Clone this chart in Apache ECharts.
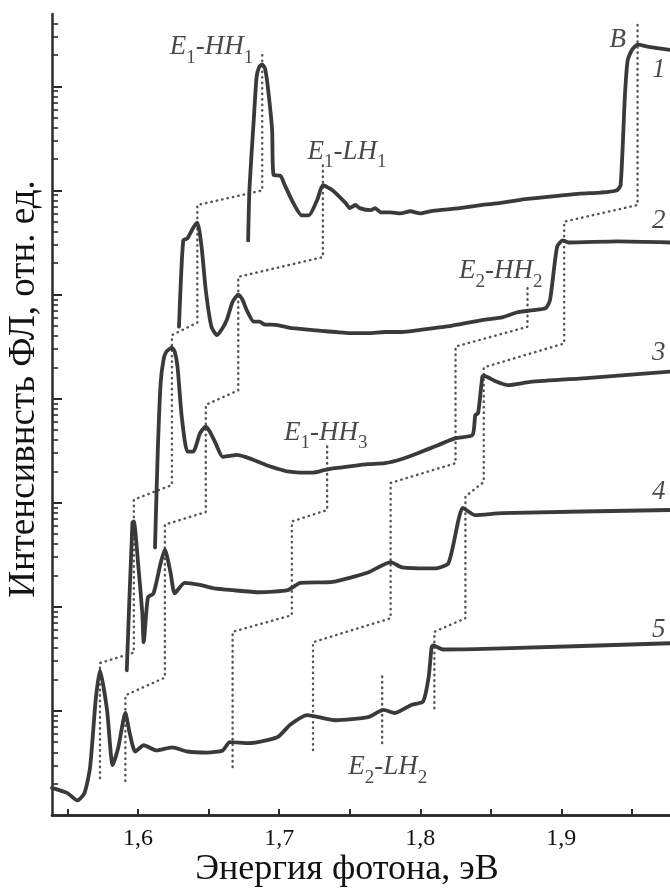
<!DOCTYPE html>
<html>
<head>
<meta charset="utf-8">
<script src="https://cdn.jsdelivr.net/npm/echarts@6/dist/echarts.min.js"></script>
<style>
html, body { margin: 0; padding: 0; background: #fff; }
#chart { width: 670px; height: 892px; }
</style>
</head>
<body>
<div id="chart"></div>
<script>
// x: photon energy, eV;  y: lg of PL intensity (curves offset by decades)
var curve1 = [[1.678,5.52],[1.679,6.03],[1.682,6.68],[1.684,7.09],[1.686,7.19],[1.688,7.21],[1.690,7.17],[1.692,6.99],[1.695,6.58],[1.696,6.15],[1.701,6.14],[1.704,6.05],[1.710,5.88],[1.716,5.76],[1.721,5.76],[1.727,5.91],[1.731,6.05],[1.738,6.00],[1.747,5.88],[1.750,5.83],[1.754,5.86],[1.757,5.83],[1.765,5.81],[1.768,5.83],[1.772,5.79],[1.779,5.79],[1.786,5.78],[1.793,5.80],[1.800,5.78],[1.807,5.80],[1.814,5.81],[1.828,5.83],[1.843,5.86],[1.857,5.88],[1.871,5.91],[1.885,5.93],[1.899,5.95],[1.913,5.97],[1.928,5.98],[1.939,6.00],[1.942,6.05],[1.945,6.90],[1.947,7.25],[1.950,7.35],[1.954,7.40],[1.962,7.38],[1.977,7.35]];
var curve2 = [[1.629,4.69],[1.632,5.52],[1.635,5.54],[1.639,5.64],[1.642,5.69],[1.645,5.46],[1.648,5.04],[1.652,4.69],[1.656,4.61],[1.660,4.68],[1.663,4.76],[1.667,4.93],[1.671,5.00],[1.674,4.95],[1.677,4.85],[1.682,4.74],[1.686,4.74],[1.690,4.71],[1.694,4.71],[1.701,4.70],[1.708,4.68],[1.715,4.67],[1.722,4.66],[1.730,4.65],[1.740,4.64],[1.750,4.63],[1.763,4.63],[1.775,4.64],[1.787,4.64],[1.800,4.66],[1.811,4.68],[1.822,4.70],[1.834,4.73],[1.846,4.76],[1.858,4.78],[1.869,4.83],[1.880,4.85],[1.889,4.87],[1.892,4.95],[1.897,5.46],[1.901,5.52],[1.905,5.50],[1.940,5.51],[1.977,5.50]];
var curve3 = [[1.612,2.57],[1.614,3.51],[1.616,4.15],[1.618,4.37],[1.620,4.45],[1.624,4.49],[1.626,4.45],[1.628,4.30],[1.631,3.82],[1.635,3.49],[1.639,3.49],[1.644,3.67],[1.648,3.73],[1.651,3.68],[1.655,3.57],[1.660,3.44],[1.665,3.45],[1.670,3.46],[1.676,3.44],[1.682,3.41],[1.691,3.36],[1.698,3.33],[1.706,3.30],[1.715,3.29],[1.724,3.29],[1.731,3.31],[1.738,3.33],[1.750,3.35],[1.763,3.37],[1.775,3.38],[1.787,3.42],[1.799,3.48],[1.812,3.55],[1.825,3.62],[1.837,3.65],[1.839,3.84],[1.841,3.86],[1.844,4.21],[1.845,4.22],[1.853,4.17],[1.862,4.13],[1.878,4.16],[1.920,4.20],[1.977,4.26]];
var curve4 = [[1.592,1.39],[1.596,2.81],[1.597,2.82],[1.600,2.42],[1.603,1.94],[1.604,1.66],[1.607,2.09],[1.611,2.13],[1.616,2.42],[1.619,2.55],[1.623,2.33],[1.626,2.13],[1.633,2.23],[1.644,2.21],[1.653,2.18],[1.667,2.16],[1.686,2.14],[1.706,2.16],[1.715,2.23],[1.738,2.24],[1.763,2.33],[1.779,2.43],[1.787,2.38],[1.811,2.37],[1.820,2.42],[1.827,2.83],[1.830,2.95],[1.839,2.88],[1.858,2.90],[1.977,2.93]];
var curve5 = [[1.539,0.26],[1.550,0.21],[1.557,0.14],[1.562,0.21],[1.566,0.46],[1.570,1.11],[1.573,1.39],[1.578,1.01],[1.582,0.48],[1.586,0.65],[1.591,0.98],[1.594,0.79],[1.598,0.61],[1.604,0.67],[1.613,0.62],[1.624,0.65],[1.635,0.61],[1.649,0.60],[1.660,0.62],[1.665,0.70],[1.679,0.69],[1.699,0.75],[1.708,0.87],[1.720,0.96],[1.740,0.91],[1.763,0.94],[1.774,1.01],[1.782,0.98],[1.794,1.06],[1.802,1.09],[1.806,1.33],[1.808,1.61],[1.809,1.63],[1.816,1.59],[1.858,1.60],[1.977,1.65]];

// dotted guide lines following each transition from curve to curve
var guideA = [[1.688,7.30],[1.688,6.00],[1.642,5.86],[1.642,4.73],[1.624,4.61],[1.624,3.17],[1.597,3.03],[1.597,1.56],[1.573,1.46],[1.573,0.34]];
var guideB = [[1.731,6.24],[1.731,5.36],[1.671,5.17],[1.671,4.08],[1.648,3.94],[1.648,2.91],[1.619,2.79],[1.619,1.32],[1.591,1.15],[1.591,0.32]];
var guideC = [[1.954,7.59],[1.954,5.86],[1.902,5.70],[1.902,4.53],[1.845,4.30],[1.845,3.20],[1.832,3.06],[1.832,1.89],[1.810,1.76],[1.810,0.98]];
var guideD = [[1.876,5.06],[1.876,4.69],[1.825,4.50],[1.825,3.38],[1.779,3.19],[1.779,1.89],[1.724,1.66],[1.724,0.60]];
var guideE = [[1.734,3.54],[1.734,2.93],[1.709,2.82],[1.709,1.92],[1.667,1.76],[1.667,0.46]];
var guideF = [[1.773,1.33],[1.773,0.65]];

var labelPos = [[1.652,7.37],[1.748,6.37],[1.940,7.44],[1.969,7.15],[1.969,5.70],[1.857,5.22],[1.969,4.43],[1.733,3.67],[1.969,3.10],[1.969,1.77],[1.777,0.46]];
var labelText = ['{i|E}{s|1}{i|-HH}{s|1}', '{i|E}{s|1}{i|-LH}{s|1}', '{i|B}', '{i|1}', '{i|2}', '{i|E}{s|2}{i|-HH}{s|2}', '{i|3}', '{i|E}{s|1}{i|-HH}{s|3}', '{i|4}', '{i|5}', '{i|E}{s|2}{i|-LH}{s|2}'];

var xTicks = [1.55, 1.6, 1.65, 1.7, 1.75, 1.8, 1.85, 1.9, 1.95];
var xLabels = [1.6, 1.7, 1.8, 1.9];
var yDecades = [1, 2, 3, 4, 5, 6, 7];
var yMax = 7.695;

var yMinor = [];
for (var d = 0; d < 8; d++) {
    for (var k = 2; k < 10; k++) {
        var t = d + Math.log10(k);
        if (t < yMax) yMinor.push(t);
    }
}

var serif = '"Liberation Serif", "DejaVu Serif", serif';
var curveColor = '#3a3a3a';

var chart = echarts.init(document.getElementById('chart'));

var series = [];
[curve1, curve2, curve3, curve4, curve5].forEach(function (c) {
    series.push({
        type: 'line', data: c, symbol: 'none', z: 3, smooth: 0.2,
        lineStyle: { color: curveColor, width: 3.8, join: 'round', cap: 'round' }
    });
});
[guideA, guideB, guideC, guideD, guideE, guideF].forEach(function (g) {
    series.push({
        type: 'line', data: g, symbol: 'none', z: 2,
        lineStyle: { color: '#555', width: 2.4, type: [0.5, 5], cap: 'round' }
    });
});
series.push({
    type: 'scatter', symbolSize: 0, z: 4,
    data: labelPos.map(function (p, i) {
        return { value: p, label: { formatter: labelText[i] } };
    }),
    label: {
        show: true, position: 'inside',
        rich: {
            i: { fontFamily: serif, fontStyle: 'italic', fontSize: 27, color: '#1a1a1a', lineHeight: 28, verticalAlign: 'top' },
            s: { fontFamily: serif, fontSize: 19, color: '#1a1a1a', lineHeight: 19, padding: [15, 0, 0, 0], verticalAlign: 'top' }
        }
    }
});

chart.setOption({
    backgroundColor: '#fff',
    animation: false,
    grid: { left: 52, right: 0, top: 14, bottom: 77 },
    xAxis: [{
        type: 'value', min: 1.539, max: 1.977,
        axisLine: { lineStyle: { color: '#2b2b2b', width: 2.5 } },
        axisTick: { inside: true, length: 6, customValues: xTicks, lineStyle: { color: '#2b2b2b', width: 2 } },
        axisLabel: {
            customValues: xLabels, margin: 12,
            fontFamily: serif, fontSize: 24, color: '#111',
            formatter: function (v) { return v.toFixed(1).replace('.', ','); }
        },
        splitLine: { show: false }
    }, {
        type: 'value', position: 'top', min: 1.539, max: 1.977,
        axisLine: { lineStyle: { color: '#2b2b2b', width: 2.5 } },
        axisTick: { show: false }, axisLabel: { show: false }, splitLine: { show: false }
    }],
    yAxis: [{
        type: 'value', min: 0, max: yMax,
        axisLine: { show: true, lineStyle: { color: '#2b2b2b', width: 2.5 } },
        axisTick: { inside: true, length: 10, customValues: yDecades, lineStyle: { color: '#2b2b2b', width: 2 } },
        axisLabel: { show: false }, splitLine: { show: false }
    }, {
        type: 'value', position: 'left', min: 0, max: yMax,
        axisLine: { show: false },
        axisTick: { inside: true, length: 6, customValues: yMinor, lineStyle: { color: '#2b2b2b', width: 1.6 } },
        axisLabel: { show: false }, splitLine: { show: false }
    }],
    series: series,
    graphic: [{
        type: 'text', x: 347, y: 870,
        style: { text: 'Энергия фотона, эВ', font: '36px ' + serif, fill: '#111', align: 'center', verticalAlign: 'middle', textAlign: 'center', textVerticalAlign: 'middle' }
    }, {
        type: 'text', x: 24, y: 389, rotation: Math.PI / 2,
        style: { text: 'Интенсивнсть ФЛ, отн. ед.', font: '37px ' + serif, fill: '#111', align: 'center', verticalAlign: 'middle', textAlign: 'center', textVerticalAlign: 'middle' }
    }]
});
</script>
</body>
</html>
